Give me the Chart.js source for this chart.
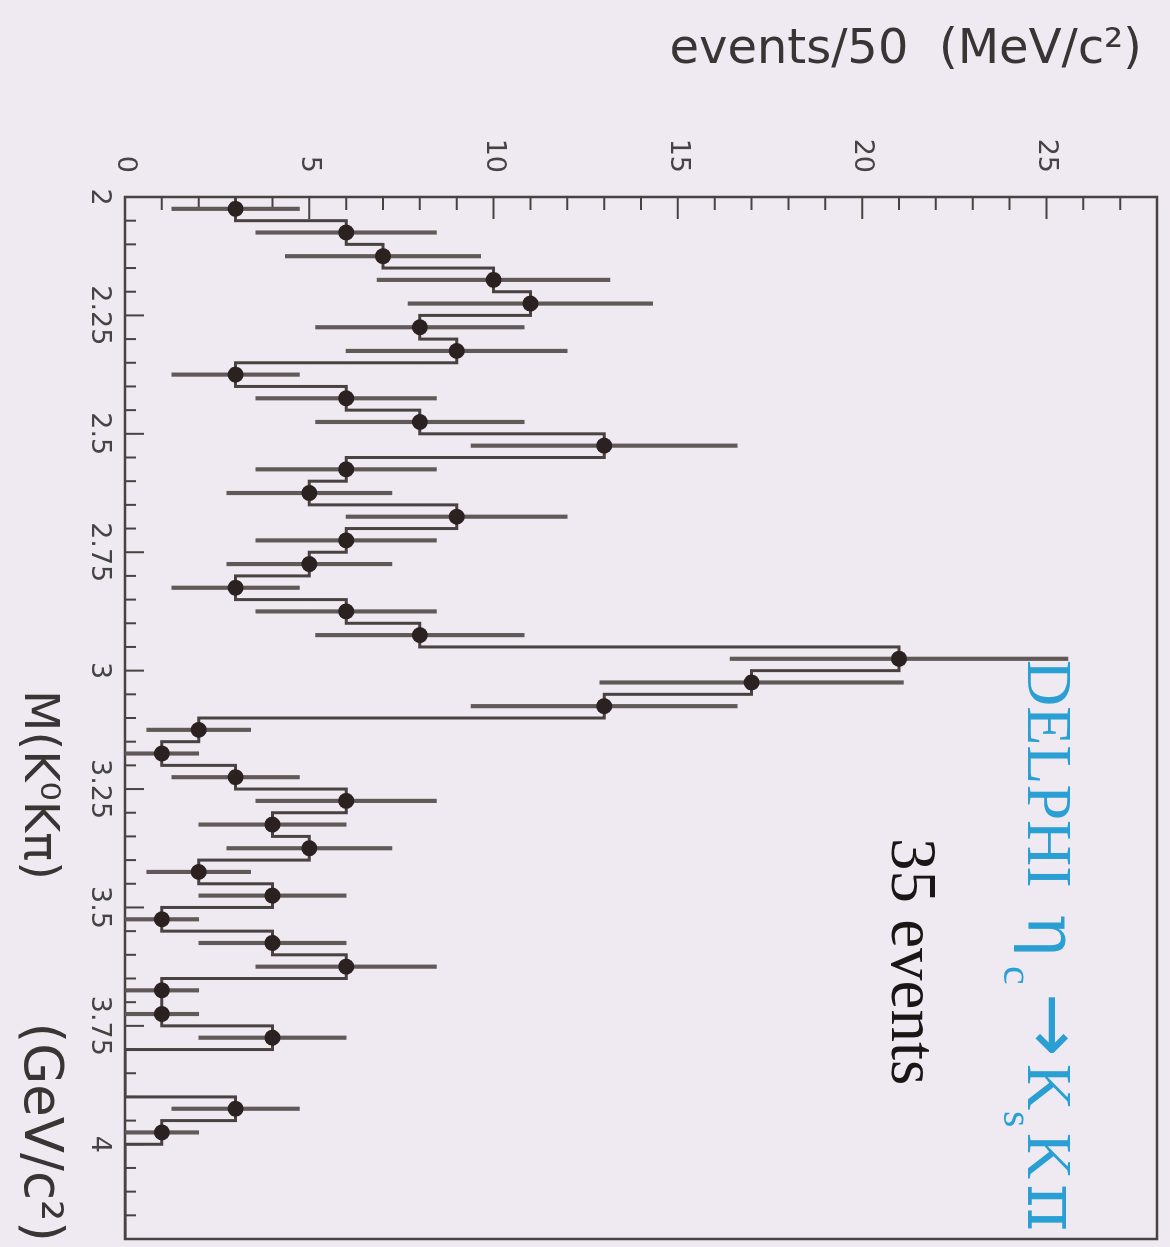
<!DOCTYPE html>
<html><head><meta charset="utf-8">
<script src="https://cdn.jsdelivr.net/npm/chart.js@4.4.0/dist/chart.umd.min.js"></script>
<style>
html,body{margin:0;padding:0;background:#efeaf1;overflow:hidden;width:1170px;height:1247px;}
#wrap{position:absolute;left:0;top:0;width:1247px;height:1170px;transform-origin:0 0;transform:translate(1170px,0) rotate(90deg);}
canvas{display:block;}
</style></head><body>
<div id="wrap"><canvas id="c" width="1247" height="1170"></canvas></div>
<script>
// bin centres, M(K0 K pi) in GeV/c^2 (50 MeV bins)
const massBins = [2.025,2.075,2.125,2.175,2.225,2.275,2.325,2.375,2.425,2.475,
  2.525,2.575,2.625,2.675,2.725,2.775,2.825,2.875,2.925,2.975,
  3.025,3.075,3.125,3.175,3.225,3.275,3.325,3.375,3.425,3.475,
  3.525,3.575,3.625,3.675,3.725,3.775,3.825,3.875,3.925,3.975,
  4.025,4.075,4.125,4.175];
// events per bin
const counts = [3,6,7,10,11,8,9,3,6,8,
  13,6,5,9,6,5,3,6,8,21,
  17,13,2,1,3,6,4,5,2,4,
  1,4,6,1,1,4,0,0,3,1,
  0,0,0,0];
// statistical errors per bin
const errors = [1.73,2.45,2.65,3.16,3.32,2.83,3.00,1.73,2.45,2.83,
  3.61,2.45,2.24,3.00,2.45,2.24,1.73,2.45,2.83,4.58,
  4.12,3.61,1.41,1.00,1.73,2.45,2.00,2.24,1.41,2.00,
  1.00,2.00,2.45,1.00,1.00,2.00,0,0,1.73,1.00,
  0,0,0,0];
const massTickStep = 0.25;
const eventTickStep = 5;
const massRange = [2, 4.2];
const eventRange = [0, 28];

const halfBin = 0.025;
const histData = massBins.map((m, i) => ({x: m - halfBin, y: counts[i]}));
histData.push({x: massBins[massBins.length - 1] + halfBin, y: counts[counts.length - 1]});
const pointData = [], errData = [];
massBins.forEach((m, i) => {
  if (counts[i] > 0) {
    pointData.push({x: m, y: counts[i]});
    errData.push({x: m, y: [counts[i] - errors[i], counts[i] + errors[i]]});
  }
});

const INK = '#4a4242';
const deco = {
  id: 'deco',
  beforeDraw(chart) {
    const ctx = chart.ctx;
    ctx.save();
    ctx.fillStyle = '#efeaf1';
    ctx.fillRect(0, 0, chart.width, chart.height);
    ctx.restore();
  },
  beforeDatasetsDraw(chart) {
    const {ctx, chartArea: a, scales: {x, y}} = chart;
    ctx.save();
    ctx.strokeStyle = INK;
    ctx.lineWidth = 2;
    ctx.beginPath();
    for (let i = 0; i <= 44; i++) {
      const px = x.getPixelForValue(2 + i * 0.05);
      const len = i % 5 === 0 ? 19 : 11;
      ctx.moveTo(px, a.bottom); ctx.lineTo(px, a.bottom - len);
    }
    for (let k = 0; k <= 28; k++) {
      const py = y.getPixelForValue(k);
      const len = k % 5 === 0 ? 22 : 13;
      ctx.moveTo(a.left, py); ctx.lineTo(a.left + len, py);
    }
    ctx.stroke();
    ctx.lineWidth = 2.5;
    ctx.strokeRect(a.left, a.top, a.right - a.left, a.bottom - a.top);
    ctx.restore();
  },
  afterDraw(chart) {
    const ctx = chart.ctx;
    ctx.save();
    ctx.fillStyle = '#3a3535';
    ctx.font = '48px "DejaVu Sans"';
    ctx.textBaseline = 'alphabetic';
    // y-axis title
    ctx.save();
    ctx.translate(63, 28);
    ctx.rotate(-Math.PI / 2);
    ctx.textAlign = 'right';
    ctx.fillText('events/50  (MeV/c²)', 0, 0);
    ctx.restore();
    // x-axis title
    ctx.textAlign = 'left';
    ctx.fillText('M(K⁰Kπ)', 690, 1145);
    ctx.font = '53px "DejaVu Sans"';
    ctx.textAlign = 'right';
    ctx.fillText('(GeV/c²)', 1242, 1145);
    // DELPHI label
    ctx.textAlign = 'left';
    ctx.fillStyle = '#2a9fd3';
    const v = 142;
    const serif = s => s + 'px "Liberation Serif"';
    const put = (t, u, f, dv) => { ctx.font = f; ctx.fillText(t, u, v + dv); };
    put('DELPHI', 660, serif(64), 0);
    put('η', 914, '70px "DejaVu Serif"', 0);
    put('c', 966, serif(42), 24);
    put('→', 993, '76px "DejaVu Sans"', 0);
    put('K', 1064, serif(64), 0);
    put('s', 1111, serif(42), 24);
    put('K', 1133, serif(64), 0);
    put('π', 1184, '72px "DejaVu Serif"', 0);
    ctx.fillStyle = '#1a1616';
    ctx.font = serif(65);
    ctx.fillText('35 events', 838, 278);
    ctx.restore();
  }
};

new Chart(document.getElementById('c'), {
  type: 'line',
  data: {
    datasets: [
      {type: 'scatter', data: pointData, order: 0, pointRadius: 8, pointBackgroundColor: '#2b2121', pointBorderWidth: 0, showLine: false},
      {type: 'bar', data: errData, order: 1, backgroundColor: '#615858', borderWidth: 0, barThickness: 3.5, grouped: false},
      {type: 'line', data: histData, order: 2, stepped: 'before', borderColor: '#4a4141', borderWidth: 3, pointRadius: 0, fill: false, tension: 0}
    ]
  },
  options: {
    responsive: false,
    animation: false,
    events: [],
    layout: {padding: {top: 13, right: 3, left: 0, bottom: 0}},
    plugins: {legend: {display: false}, tooltip: {enabled: false}},
    scales: {
      x: {
        type: 'linear', position: 'bottom', min: massRange[0], max: massRange[1], offset: false,
        grid: {display: false, drawTicks: false}, border: {display: false},
        ticks: {stepSize: massTickStep, includeBounds: false, padding: 10, autoSkip: false, maxRotation: 0, minRotation: 0,
          color: '#444', font: {family: 'DejaVu Sans', size: 27},
          callback: v => String(Number(v.toFixed(2)))},
        afterFit(s) { s.height = 125; s.paddingLeft = 0; s.paddingRight = 0; }
      },
      y: {
        type: 'linear', position: 'left', min: eventRange[0], max: eventRange[1],
        grid: {display: false, drawTicks: false}, border: {display: false},
        ticks: {stepSize: eventTickStep, includeBounds: false, padding: 24,
          color: '#444', font: {family: 'DejaVu Sans', size: 27}},
        afterFit(s) { s.width = 197; s.paddingTop = 0; s.paddingBottom = 0; }
      }
    }
  },
  plugins: [deco]
});
</script>
</body></html>
